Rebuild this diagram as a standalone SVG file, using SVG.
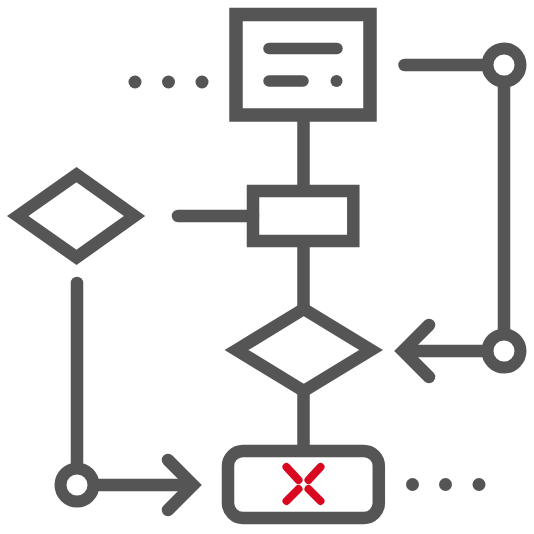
<svg xmlns="http://www.w3.org/2000/svg" width="534" height="534" viewBox="0 0 534 534">
  <style>
    .s{fill:none;stroke:#555555;stroke-width:12.5;stroke-linejoin:miter;stroke-linecap:butt}
    .r{stroke-linecap:round}
    .j{stroke-linejoin:round}
    .dot{fill:#555555}
    .x{fill:none;stroke:#d7081f;stroke-width:8;stroke-linecap:round}
    .c{fill:#ffffff;stroke:#555555;stroke-width:12}
  </style>
  <rect width="534" height="534" fill="#ffffff"/>
  <g id="connectors">
    <line class="s" x1="303.5" y1="115" x2="303.5" y2="191"/>
    <line class="s" x1="303.5" y1="241" x2="303.5" y2="309"/>
    <line class="s" x1="303.5" y1="391" x2="303.5" y2="451"/>
    <line class="s r" x1="178" y1="216" x2="253" y2="216"/>
    <line class="s r" x1="404.5" y1="65" x2="490" y2="65"/>
    <line class="s" x1="504" y1="65" x2="504" y2="351"/>
    <line class="s" x1="490" y1="351" x2="408" y2="351"/>
    <path class="s r" d="M429 325 L403 351 L429 377"/>
    <line class="s r" x1="77" y1="283" x2="77" y2="485"/>
    <line class="s" x1="77" y1="485" x2="190" y2="485"/>
    <path class="s r" d="M168 460 L193 485 L168 510"/>
    <circle class="c" cx="504" cy="65" r="16.5"/>
    <circle class="c" cx="504" cy="351" r="16.5"/>
    <circle class="c" cx="77" cy="485" r="16.5"/>
  </g>
  <g id="dots-top">
    <circle class="dot" cx="135" cy="82" r="6.5"/>
    <circle class="dot" cx="168.5" cy="82" r="6.5"/>
    <circle class="dot" cx="202" cy="82" r="6.5"/>
  </g>
  <g id="dots-bottom">
    <circle class="dot" cx="412.5" cy="484.5" r="6.5"/>
    <circle class="dot" cx="445.5" cy="484.5" r="6.5"/>
    <circle class="dot" cx="479" cy="484.5" r="6.5"/>
  </g>
  <g id="doc-box">
    <rect class="s" x="236" y="14.5" width="134" height="100.5" style="stroke-width:13.5"/>
    <line class="s r" x1="269" y1="48.5" x2="337" y2="48.5" style="stroke-width:11.5"/>
    <line class="s r" x1="269" y1="81" x2="303" y2="81" style="stroke-width:11.5"/>
    <circle class="dot" cx="336.5" cy="81" r="6"/>
  </g>
  <g id="left-diamond">
    <polygon class="s" points="17.8,216 76.5,174.7 134.5,216 76.5,257.4"/>
  </g>
  <g id="process-box">
    <rect class="s" x="253" y="191" width="100.3" height="50"/>
  </g>
  <g id="decision">
    <polygon class="s" points="236.5,350 303.75,309 371,350 303.75,391"/>
  </g>
  <g id="terminal">
    <rect class="s" x="228" y="451" width="150.8" height="67" rx="15" ry="15"/>
    <line class="x" x1="286.5" y1="467" x2="298.5" y2="480"/>
    <line class="x" x1="320.5" y1="467" x2="308.5" y2="480"/>
    <line class="x" x1="286.5" y1="501" x2="298.5" y2="489"/>
    <line class="x" x1="320.5" y1="501" x2="308.5" y2="489"/>
  </g>
</svg>
